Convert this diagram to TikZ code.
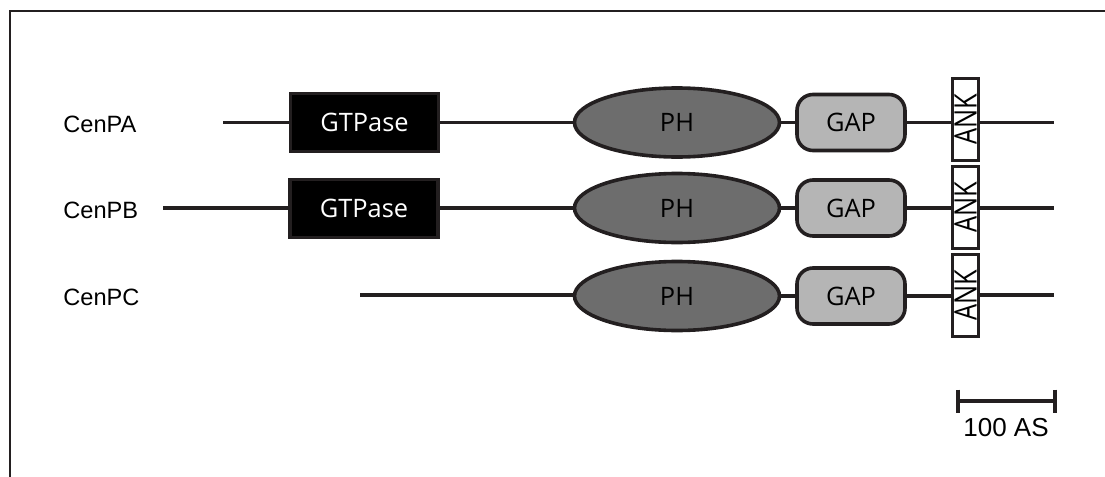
\documentclass[tikz,border=0pt]{standalone}
\usepackage{fontspec}
\setmainfont{Liberation Sans}
\newfontfamily\domfont{Open Sans}
\usetikzlibrary{shapes.geometric}
\definecolor{outl}{HTML}{231F20}
\definecolor{phgray}{HTML}{6D6D6D}
\definecolor{gapgray}{HTML}{B5B5B5}
\begin{document}
\begin{tikzpicture}[x=0.5pt,y=-0.5pt,
  chain/.style={line width=1.6pt, draw=outl},
  domtxt/.style={font=\domfont\fontsize{12.7}{15}\selectfont},
  gtp/.style={domtxt, rectangle, draw=outl, fill=black, line width=1.6pt, minimum width=74pt, minimum height=29pt, inner sep=0pt, text=white},
  ph/.style={domtxt, ellipse, draw=outl, fill=phgray, line width=1.8pt, minimum width=102.5pt, minimum height=34.5pt, inner sep=0pt},
  gap/.style={domtxt, rectangle, rounded corners=8pt, draw=outl, fill=gapgray, line width=1.8pt, minimum width=54pt, minimum height=28pt, inner sep=0pt},
  ank/.style={domtxt, rectangle, draw=outl, fill=white, line width=1.5pt, minimum width=13pt, minimum height=41pt, inner sep=0pt},
  lbl/.style={anchor=west, inner sep=0pt, font=\fontsize{11.8}{14}\selectfont},
  bar/.style={line width=2pt, draw=outl},
]
\useasboundingbox (0,0) rectangle (1105,477);
\draw[line width=1pt, draw=outl] (10,477) -- (10,11) -- (1105,11);

% Row A
\node[lbl] (lA) at (63,124) {CenPA};
\coordinate (sA) at (223,122.5);
\node[gtp] (gA) at (364.5,122.5) {GTPase};
\node[ph] (pA) at (677,122.5) {PH};
\node[gap] (cA) at (851,122.5) {GAP};
\node[ank] (kA) at (965.5,119.5) {\rotatebox{90}{\scalebox{1}[1.22]{ANK}}};
\coordinate (eA) at (1054,122.5);
\draw[chain] (sA) -- (gA.west);
\draw[chain] (gA.east) -- (pA.west);
\draw[chain] (pA.east) -- (cA.west);
\draw[chain] (cA.east) -- (cA.east -| kA.west);
\draw[chain] (kA.east |- eA) -- (eA);

% Row B
\node[lbl] (lB) at (63,210) {CenPB};
\coordinate (sB) at (163,208);
\node[gtp] (gB) at (364,208.5) {GTPase};
\node[ph] (pB) at (677,208) {PH};
\node[gap] (cB) at (851,208) {GAP};
\node[ank] (kB) at (965.5,207.5) {\rotatebox{90}{\scalebox{1}[1.22]{ANK}}};
\coordinate (eB) at (1054,208);
\draw[chain] (sB) -- (sB -| gB.west);
\draw[chain] (gB.east |- pB) -- (pB.west);
\draw[chain] (pB.east) -- (cB.west);
\draw[chain] (cB.east) -- (cB.east -| kB.west);
\draw[chain] (kB.east |- eB) -- (eB);

% Row C
\node[lbl] (lC) at (63,297) {CenPC};
\coordinate (sC) at (360,295);
\node[ph] (pC) at (677,296) {PH};
\node[gap] (cC) at (851,296) {GAP};
\node[ank] (kC) at (965.5,295) {\rotatebox{90}{\scalebox{1}[1.22]{ANK}}};
\coordinate (eC) at (1054,295);
\draw[chain] (sC) -- (sC -| pC.west);
\draw[chain] (pC.east) -- (cC.west);
\draw[chain] (cC.east) -- (cC.east -| kC.west);
\draw[chain] (kC.east |- eC) -- (eC);

% scale bar
\coordinate (b1) at (958,401);
\coordinate (b2) at (1055,401);
\draw[bar] (b1) -- (b2);
\draw[bar] ([yshift=5.75pt]b1) -- ([yshift=-5.75pt]b1);
\draw[bar] ([yshift=5.75pt]b2) -- ([yshift=-5.75pt]b2);
\node[font=\fontsize{13}{15}\selectfont, inner sep=0pt] (sbl) at (1006,428) {100 AS};
\end{tikzpicture}
\end{document}
